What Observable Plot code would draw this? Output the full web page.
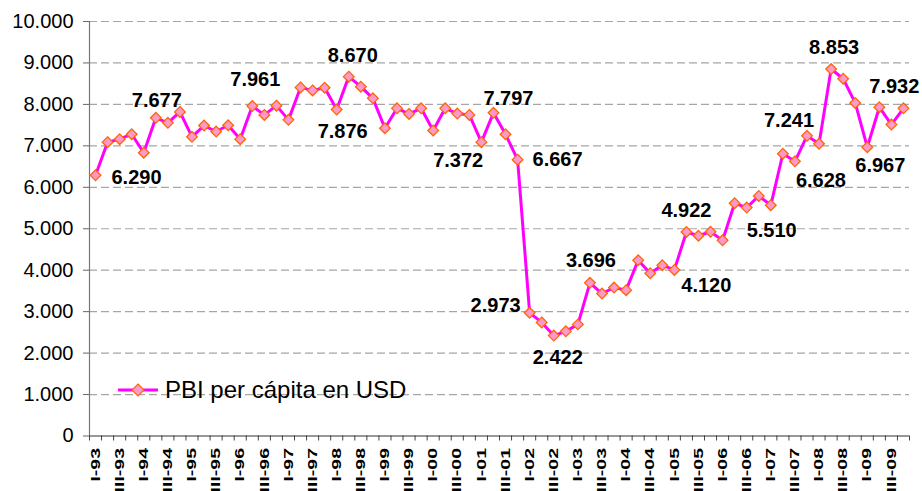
<!DOCTYPE html>
<html><head><meta charset="utf-8">
<script src="https://cdn.jsdelivr.net/npm/d3@7"></script>
<script src="https://cdn.jsdelivr.net/npm/@observablehq/plot@0.6"></script>
<style>
body{margin:0;background:#fff;}
#wrap{position:relative;width:922px;height:491px;overflow:hidden;font-family:"Liberation Sans",Arial,sans-serif;}
#legend{position:absolute;left:118px;top:376px;height:28px;display:flex;align-items:center;font-size:24px;color:#000;white-space:nowrap;}
#legend svg{margin-right:7px;}
</style></head><body><div id="wrap"></div>
<script>
// ---- data ----
const years = ["93","94","95","96","97","98","99","00","01","02","03","04","05","06","07","08","09"];
const quarterNames = ["I","II","III","IV"];
const values = [
  6290, 7089, 7161, 7281,   // 1993
  6834, 7677, 7555, 7819,   // 1994
  7218, 7490, 7346, 7497,   // 1995
  7161, 7961, 7747, 7970,   // 1996
  7627, 8410, 8338, 8403,   // 1997
  7876, 8670, 8427, 8146,   // 1998
  7425, 7905, 7771, 7905,   // 1999
  7372, 7905, 7778, 7747,   // 2000
  7089, 7797, 7281, 6667,   // 2001
  2973, 2741, 2422, 2525,   // 2002
  2693, 3696, 3437, 3582,   // 2003
  3519, 4240, 3927, 4120,   // 2004
  4007, 4922, 4831, 4927,   // 2005
  4720, 5616, 5510, 5791,   // 2006
  5568, 6810, 6628, 7241,   // 2007
  7050, 8853, 8619, 8035,   // 2008
  6967, 7932, 7514, 7905    // 2009
];
const yTicks = [0,1000,2000,3000,4000,5000,6000,7000,8000,9000,10000];
const seriesName = "PBI per cápita en USD";
// indices of labelled points (0-based)
const labelled = [0,5,13,20,21,28,33,35,36,38,41,47,49,54,58,59,61,64,65];
// label placement (offset from point, in px) — styling only
const labelOffset = {
  0:[41,2], 5:[1,-17], 13:[3,-26], 20:[6,22], 21:[4,-21], 28:[25,30], 33:[15,-14],
  35:[40,0], 36:[-34,-7], 38:[4,22], 41:[1,-22], 47:[44,20], 49:[0,-21], 54:[25,23],
  58:[26,19], 59:[-18,-15], 61:[3,-21], 64:[13,18], 65:[15,-21]
};

// ---- build table ----
const categories = [];
years.forEach(y => quarterNames.forEach(q => categories.push(q + "-" + y)));
const rows = values.map((v, i) => ({pos: i + 0.5, v, cat: categories[i]}));
const fmt = d => d3.format(",")(d).replace(/,/g, ".");
const n = categories.length;
const labelTickPos = d3.range(0, n, 2).map(i => i + 0.5);
const boundaryTicks = d3.range(0, n + 1);

const FONT = '"Liberation Sans", Arial, sans-serif';

const labelMarks = labelled.map(i => {
  const [dx, dy] = labelOffset[i];
  return Plot.text([rows[i]], {x: "pos", y: "v", text: d => fmt(d.v), dx, dy,
    fontSize: 20, fontWeight: "bold", fill: "#000", textAnchor: "middle"});
});

const chart = Plot.plot({
  width: 922, height: 491,
  marginLeft: 89, marginRight: 13, marginTop: 21, marginBottom: 55.5,
  style: {fontFamily: FONT, background: "#fff", color: "#000"},
  x: {domain: [0, n], axis: null},
  y: {domain: [0, 10000], axis: null},
  marks: [
    Plot.gridY(yTicks.filter(d => d > 0), {stroke: "#a6a6a6", strokeOpacity: 1, strokeDasharray: "8,4", strokeWidth: 1.2}),
    Plot.axisY(yTicks, {tickSize: 6, tickPadding: 10, tickFormat: fmt, fontSize: 20, label: null, stroke: "#666", fill: "#000"}),
    Plot.axisX(boundaryTicks, {tickSize: 5, tickFormat: () => "", label: null, stroke: "#444"}),
    Plot.axisX(labelTickPos, {tickSize: 0, tickPadding: 12, tickRotate: -90, fontSize: 13, fontWeight: "bold",
      tickFormat: d => categories[Math.floor(d)], label: null, fill: "#000"}),
    Plot.ruleX([0], {stroke: "#777", strokeWidth: 1.2}),
    Plot.ruleY([0], {stroke: "#333", strokeWidth: 1.2}),
    Plot.line(rows, {x: "pos", y: "v", stroke: "#FF00FF", strokeWidth: 3}),
    Plot.dot(rows, {x: "pos", y: "v", symbol: "diamond2", r: 4.8, fill: "#FF99CC", stroke: "#FF6600", strokeWidth: 1.3}),
    ...labelMarks
  ]
});

// stretch rotated quarter labels along their length, as in the original
d3.select(chart).selectAll("text").each(function() {
  const t = this.textContent;
  if (/^I{1,3}V?-\d\d$/.test(t)) {
    const tr = this.getAttribute("transform") || "";
    this.setAttribute("transform", tr + " scale(1.5,1)");
  }
});

const wrap = document.getElementById("wrap");
wrap.appendChild(chart);

// legend (inside plot area, as in the original)
const lg = document.createElement("div");
lg.id = "legend";
lg.innerHTML = `<svg width="40" height="20"><line x1="0" y1="10" x2="40" y2="10" stroke="#FF00FF" stroke-width="3"/>
<path d="M20,4 L26,10 L20,16 L14,10 Z" fill="#FF99CC" stroke="#FF6600" stroke-width="1.2"/></svg><span>${seriesName}</span>`;
wrap.appendChild(lg);
</script></body></html>
